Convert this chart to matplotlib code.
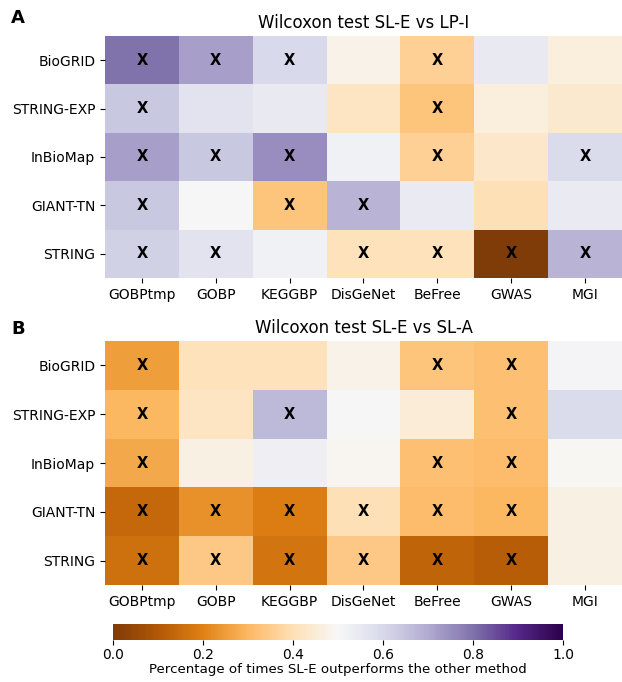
import numpy as np
import matplotlib
matplotlib.use("Agg")
import matplotlib.pyplot as plt

# networks (rows) and gene sets (columns)
networks = ["BioGRID", "STRING-EXP", "InBioMap", "GIANT-TN", "STRING"]
genesets = ["GOBPtmp", "GOBP", "KEGGBP", "DisGeNet", "BeFree", "GWAS", "MGI"]

# fraction of times SL-E beats LP-I
frac_lpi = [
    [0.80, 0.72, 0.60, 0.48, 0.36, 0.55, 0.46],
    [0.64, 0.57, 0.55, 0.42, 0.33, 0.46, 0.44],
    [0.72, 0.64, 0.75, 0.52, 0.36, 0.43, 0.59],
    [0.64, 0.50, 0.33, 0.68, 0.54, 0.40, 0.54],
    [0.62, 0.57, 0.52, 0.41, 0.41, 0.00, 0.68],
]
# 1 = significant
sig_lpi = [
    [1, 1, 1, 0, 1, 0, 0],
    [1, 0, 0, 0, 1, 0, 0],
    [1, 1, 1, 0, 1, 0, 1],
    [1, 0, 1, 1, 0, 0, 0],
    [1, 1, 0, 1, 1, 1, 1],
]

# fraction of times SL-E beats SL-A
frac_sla = [
    [0.25, 0.41, 0.41, 0.48, 0.33, 0.32, 0.51],
    [0.30, 0.42, 0.67, 0.50, 0.45, 0.32, 0.59],
    [0.27, 0.47, 0.53, 0.49, 0.32, 0.31, 0.495],
    [0.14, 0.23, 0.19, 0.40, 0.31, 0.30, 0.47],
    [0.16, 0.34, 0.17, 0.34, 0.13, 0.11, 0.47],
]
sig_sla = [
    [1, 0, 0, 0, 1, 1, 0],
    [1, 0, 1, 0, 0, 1, 0],
    [1, 0, 0, 0, 1, 1, 0],
    [1, 1, 1, 1, 1, 1, 0],
    [1, 1, 1, 1, 1, 1, 0],
]

plt.rcParams["font.family"] = "DejaVu Sans"

fig = plt.figure(figsize=(6.22, 6.82), dpi=100)
ax_a = fig.add_axes([0.1688, 0.5924, 0.8312, 0.3548])
ax_b = fig.add_axes([0.1688, 0.1422, 0.8312, 0.3578])
cax = fig.add_axes([0.1817, 0.0615, 0.7235, 0.0235])


def heatmap(ax, vals, sig, title):
    vals = np.array(vals)
    mesh = ax.pcolormesh(vals, cmap="PuOr", vmin=0, vmax=1)
    for i in range(vals.shape[0]):
        for j in range(vals.shape[1]):
            if sig[i][j]:
                ax.text(j + 0.5, i + 0.5, "X", ha="center", va="center",
                        fontsize=10.5, fontweight="bold", color="black")
    ax.set_xlim(0, len(genesets))
    ax.set_ylim(len(networks), 0)
    ax.set_xticks(np.arange(len(genesets)) + 0.5)
    ax.set_xticklabels(genesets, fontsize=10)
    ax.set_yticks(np.arange(len(networks)) + 0.5)
    ax.set_yticklabels(networks, fontsize=10)
    for s in ax.spines.values():
        s.set_visible(False)
    ax.set_title(title, fontsize=12, pad=6)
    return mesh


mesh = heatmap(ax_a, frac_lpi, sig_lpi, "Wilcoxon test SL-E vs LP-I")
heatmap(ax_b, frac_sla, sig_sla, "Wilcoxon test SL-E vs SL-A")

cb = fig.colorbar(mesh, cax=cax, orientation="horizontal")
cb.outline.set_visible(False)
cb.set_ticks([0, 0.2, 0.4, 0.6, 0.8, 1.0])
cb.ax.tick_params(labelsize=10, pad=2)
cb.set_label("Percentage of times SL-E outperforms the other method",
             fontsize=9.6, labelpad=1)

fig.text(0.018, 0.973, "A", fontsize=13, fontweight="bold", va="center")
fig.text(0.018, 0.518, "B", fontsize=13, fontweight="bold", va="center")

fig.savefig("out.png", dpi=100)
